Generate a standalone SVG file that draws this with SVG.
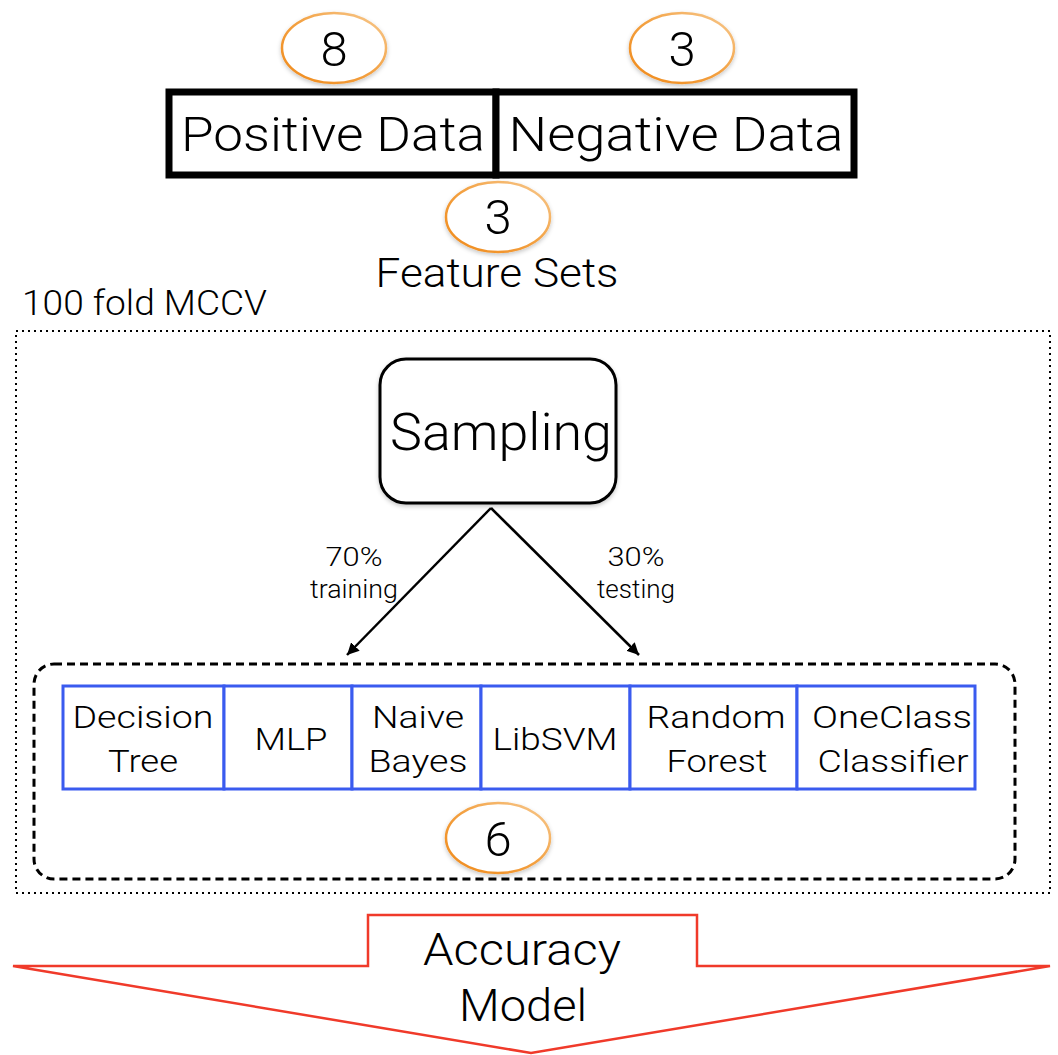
<svg xmlns="http://www.w3.org/2000/svg" width="1058" height="1055" viewBox="0 0 1058 1055">
<defs>
<style>
text{font-family:Roboto,"Liberation Sans",Arial,sans-serif;font-weight:300;fill:#000;text-anchor:middle}
.badge{fill:#fff;stroke:url(#og);stroke-width:2.5}
.data{fill:#fff;stroke:#000;stroke-width:7}
.clf{fill:#fff;stroke:#3a5bef;stroke-width:3}
.lbl{font-size:32px}
.num{font-size:49px}
.pct{font-size:25px}
</style>
<linearGradient id="og" x1="0" y1="1" x2="1" y2="0">
<stop offset="0" stop-color="#f08a1a"/>
<stop offset="0.5" stop-color="#f3a040"/>
<stop offset="1" stop-color="#f7c98f"/>
</linearGradient>
<filter id="sh" x="-30%" y="-30%" width="160%" height="160%">
<feDropShadow dx="0" dy="2" stdDeviation="2" flood-color="#000" flood-opacity="0.22"/>
</filter>
<marker id="ah" markerWidth="12" markerHeight="12" refX="10" refY="5" orient="auto" markerUnits="userSpaceOnUse" viewBox="0 0 10 10">
<path d="M0,0 L10,5 L0,10 z" fill="#000"/>
</marker>
</defs>
<rect width="1058" height="1055" fill="#fff"/>

<g id="positive-data">
<rect class="data" x="169" y="92" width="327" height="83"/>
<text x="333" y="151" style="font-size:49px" textLength="304" lengthAdjust="spacingAndGlyphs">Positive Data</text>
</g>
<g id="negative-data">
<rect class="data" x="496" y="92" width="358" height="83"/>
<text x="676" y="151" style="font-size:49px" textLength="335" lengthAdjust="spacingAndGlyphs">Negative Data</text>
</g>
<g id="badge-8">
<ellipse class="badge" cx="334" cy="48" rx="52" ry="35" filter="url(#sh)"/>
<text class="num" x="334" y="66">8</text>
</g>
<g id="badge-3a">
<ellipse class="badge" cx="682" cy="48" rx="52" ry="35" filter="url(#sh)"/>
<text class="num" x="682" y="66">3</text>
</g>
<g id="badge-3b">
<ellipse class="badge" cx="498" cy="217" rx="52" ry="35" filter="url(#sh)"/>
<text class="num" x="498" y="234">3</text>
</g>
<g id="feature-sets">
<text x="497" y="287" style="font-size:40px" textLength="243" lengthAdjust="spacingAndGlyphs">Feature Sets</text>
</g>

<g id="mccv">
<rect x="16" y="331" width="1034" height="562" fill="none" stroke="#000" stroke-width="2" stroke-dasharray="2 4"/>
<text x="22" y="315" style="font-size:35px;text-anchor:start" textLength="245" lengthAdjust="spacingAndGlyphs">100 fold MCCV</text>
</g>

<g id="sampling">
<rect x="380" y="359" width="236" height="144" rx="26" fill="#fff" stroke="#000" stroke-width="3" filter="url(#sh)"/>
<text x="501" y="450" style="font-size:52px" textLength="222" lengthAdjust="spacingAndGlyphs">Sampling</text>
</g>

<g id="connectors">
<line x1="491" y1="508" x2="347" y2="655" stroke="#000" stroke-width="2.5" marker-end="url(#ah)"/>
<line x1="491" y1="508" x2="639" y2="655" stroke="#000" stroke-width="2.5" marker-end="url(#ah)"/>
<text class="pct" x="354" y="566" textLength="57" lengthAdjust="spacingAndGlyphs">70%</text>
<text class="pct" x="354" y="598" textLength="88" lengthAdjust="spacingAndGlyphs">training</text>
<text class="pct" x="636" y="566" textLength="57" lengthAdjust="spacingAndGlyphs">30%</text>
<text class="pct" x="636" y="598" textLength="78" lengthAdjust="spacingAndGlyphs">testing</text>
</g>

<g id="classifiers">
<rect x="34" y="664" width="981" height="215" rx="20" fill="none" stroke="#000" stroke-width="3" stroke-dasharray="8 5"/>
<g id="decision-tree">
<rect class="clf" x="63" y="686" width="161" height="103"/>
<text class="lbl" x="143" y="728" textLength="141" lengthAdjust="spacingAndGlyphs">Decision</text>
<text class="lbl" x="143" y="772" textLength="70" lengthAdjust="spacingAndGlyphs">Tree</text>
</g>
<g id="mlp">
<rect class="clf" x="224" y="686" width="128" height="103"/>
<text class="lbl" x="291" y="750" textLength="73" lengthAdjust="spacingAndGlyphs">MLP</text>
</g>
<g id="naive-bayes">
<rect class="clf" x="352" y="686" width="129" height="103"/>
<text class="lbl" x="418" y="728" textLength="92" lengthAdjust="spacingAndGlyphs">Naive</text>
<text class="lbl" x="418" y="772" textLength="99" lengthAdjust="spacingAndGlyphs">Bayes</text>
</g>
<g id="libsvm">
<rect class="clf" x="481" y="686" width="149" height="103"/>
<text class="lbl" x="555" y="750" textLength="125" lengthAdjust="spacingAndGlyphs">LibSVM</text>
</g>
<g id="random-forest">
<rect class="clf" x="630" y="686" width="167" height="103"/>
<text class="lbl" x="716" y="728" textLength="139" lengthAdjust="spacingAndGlyphs">Random</text>
<text class="lbl" x="717" y="772" textLength="101" lengthAdjust="spacingAndGlyphs">Forest</text>
</g>
<g id="oneclass">
<rect class="clf" x="797" y="686" width="178" height="103"/>
<text class="lbl" x="892" y="728" textLength="160" lengthAdjust="spacingAndGlyphs">OneClass</text>
<text class="lbl" x="893" y="772" textLength="151" lengthAdjust="spacingAndGlyphs">Classifier</text>
</g>
<g id="badge-6">
<ellipse class="badge" cx="498" cy="838" rx="52" ry="35" filter="url(#sh)"/>
<text class="num" x="498" y="856">6</text>
</g>
</g>

<g id="accuracy-model">
<polygon points="13,966 368,966 368,915 697,915 697,966 1050,966 531,1053" fill="#fff" stroke="#f03a2a" stroke-width="2.5" stroke-linejoin="miter"/>
<text x="522" y="965" style="font-size:45px" textLength="198" lengthAdjust="spacingAndGlyphs">Accuracy</text>
<text x="523" y="1021" style="font-size:45px" textLength="128" lengthAdjust="spacingAndGlyphs">Model</text>
</g>
</svg>
